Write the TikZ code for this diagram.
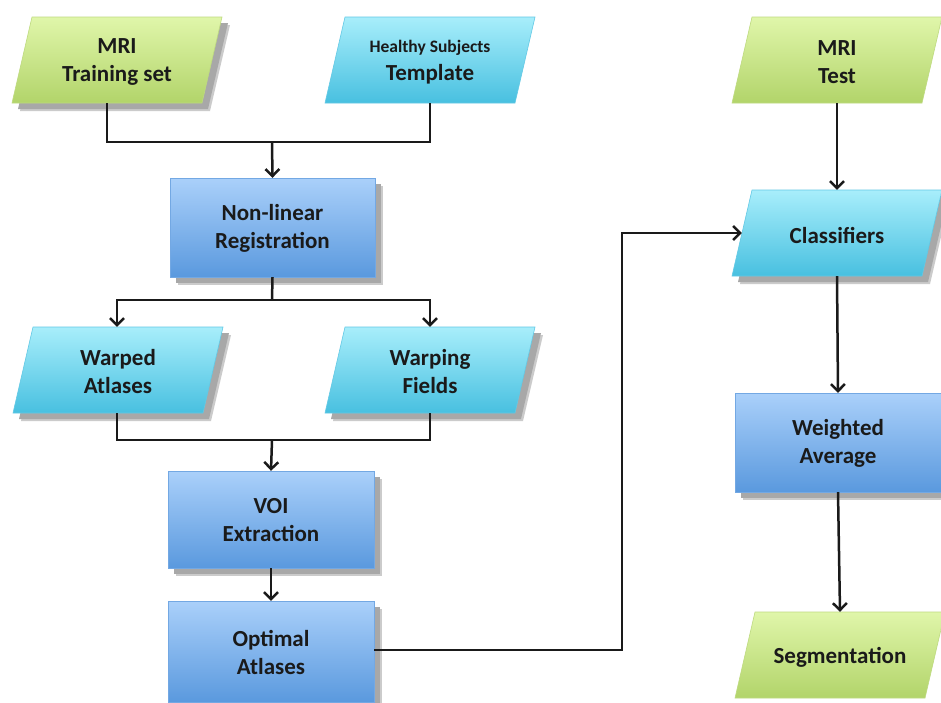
\documentclass[tikz,border=0pt]{standalone}
\usepackage{fontspec}
\setmainfont{Carlito}
\usetikzlibrary{arrows.meta,calc}
\definecolor{gtop}{HTML}{E0F6AA}
\definecolor{gbot}{HTML}{B2D46A}
\definecolor{ctop}{HTML}{A8EEFB}
\definecolor{cbot}{HTML}{48C0E0}
\definecolor{btop}{HTML}{AAD0FA}
\definecolor{bbot}{HTML}{5A99DE}
\definecolor{shd}{HTML}{A8A8A8}
\definecolor{ink}{HTML}{1A1A1A}
\tikzset{
  lbl/.style={inner sep=0pt, align=center, text=ink, font=\fontsize{23}{28}\selectfont\bfseries},
  conn/.style={draw=ink, line width=2.5pt},
  arr/.style={conn, -{Straight Barb[length=7pt,width=14pt,line width=2.5pt]}},
}
% name, cx, cy, top colour, bottom colour, shadow(1/0), text
\newcommand\myparal[7]{%
  \ifnum#6=1
    \fill[shd!60] (#2-85+8,#3-43+8) -- (#2+105+8,#3-43+8) -- (#2+85+8,#3+43+8) -- (#2-105+8,#3+43+8) -- cycle;
    \fill[shd] (#2-85+6,#3-43+6) -- (#2+105+6,#3-43+6) -- (#2+85+6,#3+43+6) -- (#2-105+6,#3+43+6) -- cycle;
  \fi
  \shade[top color=#4, bottom color=#5, draw=#5!85!white, line width=0.6pt]
    (#2-85,#3-43) -- (#2+105,#3-43) -- (#2+85,#3+43) -- (#2-105,#3+43) -- cycle;
  \node[lbl, minimum width=190pt, minimum height=86pt] (#1) at (#2,#3) {};
  \node[lbl] (#1-t) at (#2,#3+2) {#7};
}
% name, x1, y1, x2, y2, text
\newcommand\myrect[6]{%
  \fill[shd!60] (#2+8,#3+8) rectangle (#4+8,#5+8);
  \fill[shd] (#2+6,#3+6) rectangle (#4+6,#5+6);
  \shade[top color=btop, bottom color=bbot, draw=bbot!85!white, line width=0.6pt]
    (#2,#3) rectangle (#4,#5);
  \node[lbl, minimum width=#4-#2, minimum height=#5-#3] (#1) at ({(#2+#4)/2},{(#3+#5)/2}) {};
  \node[lbl] (#1-t) at ({(#2+#4)/2},{(#3+#5)/2+1}) {#6};
}
\begin{document}
\begin{tikzpicture}[x=1pt,y=-1pt]
\useasboundingbox (0,0) rectangle (941,702);
\fill[white] (0,0) rectangle (941,702);

\myparal{train}{117}{60}{gtop}{gbot}{1}{MRI\\Training set}
\myparal{tmpl}{430}{60}{ctop}{cbot}{0}{{\fontsize{17.5}{20}\selectfont Healthy Subjects}\\Template}
\myrect{nlr}{170}{178}{375}{277}{Non-linear\\Registration}
\myparal{warped}{118}{370}{ctop}{cbot}{1}{Warped\\Atlases}
\myparal{fields}{430}{370}{ctop}{cbot}{1}{Warping\\Fields}
\myrect{voi}{168}{471}{374}{568}{VOI\\Extraction}
\myrect{opt}{168}{601}{374}{702}{Optimal\\Atlases}
\myparal{test}{837}{60}{gtop}{gbot}{0}{MRI\\Test}
\myparal{cls}{837}{233}{ctop}{cbot}{1}{Classifiers}
\myrect{wavg}{735}{393}{941}{492}{Weighted\\Average}
\myparal{seg}{840}{655}{gtop}{gbot}{0}{Segmentation}

\coordinate (j1) at (272,142);
\coordinate (j2) at (272,300);
\coordinate (j3) at (272,440);
\coordinate (j4) at (622,233);

\draw[conn] ($(train.south)+(-10,0)$) |- (j1) -| (tmpl.south);
\draw[arr] (j1) -- (nlr.north);
\draw[conn] (nlr.south) -- (j2);
\draw[arr] (j2) -| ($(warped.north)+(-1,0)$);
\draw[arr] (j2) -| (fields.north);
\draw[conn] ($(warped.south)+(-1,0)$) |- (j3) -| (fields.south);
\draw[arr] (j3) -- (voi.north);
\draw[arr] (voi.south) -- (opt.north);
\draw[arr] (opt.east |- 0,650) -| (j4) -- ($(cls.west)+(0,0)$);
\draw[arr] (test.south) -- (cls.north);
\draw[arr] (cls.south) -- (wavg.north);
\draw[arr] (wavg.south) -- (seg.north);
\end{tikzpicture}
\end{document}
